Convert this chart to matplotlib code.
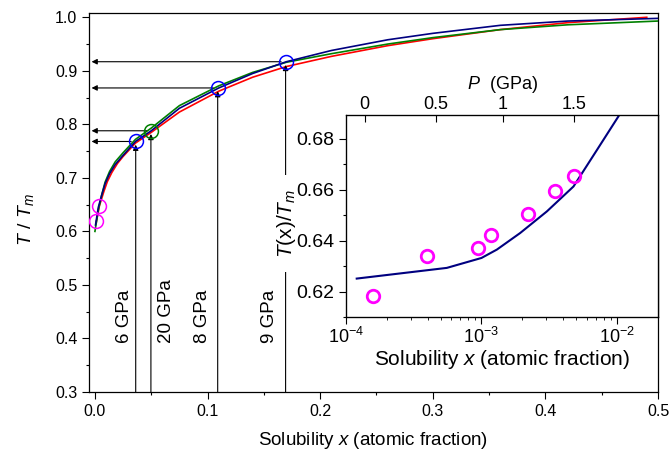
import matplotlib
matplotlib.use("Agg")
import matplotlib.pyplot as plt
from matplotlib.patches import Rectangle
from matplotlib.ticker import MultipleLocator, FixedLocator, NullLocator, LogLocator, NullFormatter

plt.rcParams['font.family'] = ['Liberation Sans', 'DejaVu Sans']
plt.rcParams['mathtext.fontset'] = 'custom'
plt.rcParams['mathtext.rm'] = 'Liberation Sans'
plt.rcParams['mathtext.it'] = 'Liberation Sans:italic'
plt.rcParams['mathtext.bf'] = 'Liberation Sans:bold'

# ---- main panel data ----
x_navy = [0.0005, 0.003, 0.006, 0.009, 0.013, 0.018, 0.025, 0.036, 0.05, 0.075, 0.11, 0.14, 0.17, 0.21, 0.26, 0.30, 0.36, 0.42, 0.50]
y_navy = [0.612, 0.645, 0.668, 0.689, 0.708, 0.725, 0.742, 0.768, 0.788, 0.830, 0.868, 0.895, 0.917, 0.938, 0.958, 0.970, 0.985, 0.993, 0.998]
x_red = [0.001, 0.004, 0.008, 0.011, 0.015, 0.02, 0.025, 0.036, 0.05, 0.075, 0.11, 0.14, 0.17, 0.21, 0.26, 0.30, 0.36, 0.42, 0.49]
y_red = [0.615, 0.648, 0.675, 0.693, 0.710, 0.727, 0.740, 0.765, 0.785, 0.823, 0.862, 0.888, 0.908, 0.927, 0.947, 0.960, 0.977, 0.990, 1.000]
x_green = [0.0, 0.003, 0.006, 0.009, 0.013, 0.018, 0.025, 0.036, 0.05, 0.075, 0.11, 0.14, 0.17, 0.21, 0.26, 0.30, 0.36, 0.42, 0.50]
y_green = [0.600, 0.640, 0.668, 0.692, 0.712, 0.730, 0.747, 0.772, 0.793, 0.835, 0.872, 0.897, 0.916, 0.932, 0.950, 0.962, 0.977, 0.986, 0.993]

mag_x = [0.0006, 0.004]
mag_y = [0.619, 0.647]
circ_x = [0.0362, 0.0497, 0.109, 0.1693]
circ_y = [0.768, 0.788, 0.868, 0.917]
circ_c = ['#0000ff', '#008000', '#0000ff', '#0000ff']
gpa_labels = ['6 GPa', '20 GPa', '8 GPa', '9 GPa']
gpa_label_x = [0.0264, 0.0638, 0.0958, 0.155]

# ---- inset data ----
in_curve_x = [1.2e-4, 5.55e-4, 1.0e-3, 1.3e-3, 1.93e-3, 3.04e-3, 4.78e-3, 7.13e-3, 1.03e-2, 1.1e-2]
in_curve_y = [0.6251, 0.6293, 0.6332, 0.6365, 0.6430, 0.6515, 0.6613, 0.6757, 0.689, 0.692]
in_pts_x = [1.59e-4, 3.95e-4, 9.5e-4, 1.17e-3, 2.22e-3, 3.47e-3, 4.86e-3]
in_pts_y = [0.6182, 0.6338, 0.6371, 0.6421, 0.6505, 0.6595, 0.6655]
P_ticks = [0, 0.5, 1, 1.5]
P_tick_x = [1.37e-4, 4.63e-4, 1.44e-3, 4.79e-3]

fig = plt.figure(figsize=(6.7, 4.55), dpi=100)
ax = fig.add_axes([0.1328, 0.1385, 0.8493, 0.8329])

ax.plot(x_red, y_red, color='#ff0000', lw=1.2, zorder=3)
ax.plot(x_green, y_green, color='#008000', lw=1.2, zorder=3)
ax.plot(x_navy, y_navy, color='#000080', lw=1.2, zorder=4)

ax.plot(mag_x, mag_y, 'o', ms=10, mfc='none', mec='#ff00ff', mew=1.1, zorder=6)
for cx, cy, cc in zip(circ_x, circ_y, circ_c):
    ax.plot([cx], [cy], 'o', ms=10, mfc='none', mec=cc, mew=1.1, zorder=6)

arr = dict(arrowstyle='-|>', color='k', lw=0.8, mutation_scale=8, shrinkA=0, shrinkB=0)
for cx, cy in zip(circ_x, circ_y):
    ax.annotate('', xy=(cx, cy - 0.006), xytext=(cx, 0.3), arrowprops=arr, zorder=5)
    ax.annotate('', xy=(-0.003, cy), xytext=(cx - 0.004, cy), arrowprops=arr, zorder=5)

for lab, lx in zip(gpa_labels, gpa_label_x):
    ax.text(lx, 0.392, lab, rotation=90, ha='center', va='bottom', fontsize=13.5)

ax.set_xlim(-0.0053, 0.5)
ax.set_ylim(0.3, 1.008)
ax.xaxis.set_major_locator(MultipleLocator(0.1))
ax.xaxis.set_minor_locator(MultipleLocator(0.05))
ax.yaxis.set_major_locator(MultipleLocator(0.1))
ax.yaxis.set_minor_locator(MultipleLocator(0.05))
ax.xaxis.set_major_formatter(plt.FuncFormatter(lambda v, p: f"{v:.1f}"))
ax.yaxis.set_major_formatter(plt.FuncFormatter(lambda v, p: f"{v:.1f}"))
ax.tick_params(which='major', direction='out', length=4.8, width=0.8, labelsize=11.5)
ax.tick_params(which='minor', direction='out', length=2.4, width=0.8)
for s in ax.spines.values():
    s.set_linewidth(0.9)
ax.set_xlabel('Solubility $x$ (atomic fraction)', fontsize=13.5, labelpad=8)
ax.set_ylabel('$T$ / $T_m$', fontsize=14)
ax.yaxis.set_label_coords(-0.093, 0.456)

# ---- inset ----
ai = fig.add_axes([0.5164, 0.3033, 0.4657, 0.4440])
ai.plot(in_curve_x, in_curve_y, color='#000080', lw=1.5)
ai.plot(in_pts_x, in_pts_y, 'o', ms=9, mfc='none', mec='#ff00ff', mew=2.0)
ai.set_xscale('log')
ai.set_xlim(1e-4, 0.0201)
ai.set_ylim(0.610, 0.6894)
ai.yaxis.set_major_locator(MultipleLocator(0.02))
ai.yaxis.set_minor_locator(MultipleLocator(0.01))
ai.yaxis.set_major_formatter(plt.FuncFormatter(lambda v, p: f"{v:.2f}"))
ai.xaxis.set_major_locator(LogLocator(base=10, numticks=10))
ai.xaxis.set_minor_locator(LogLocator(base=10, subs=range(2, 10), numticks=10))
ai.xaxis.set_minor_formatter(NullFormatter())
ai.tick_params(axis='y', which='major', direction='out', length=4.8, width=0.8, labelsize=14)
ai.tick_params(axis='y', which='minor', direction='out', length=2.4, width=0.8)
ai.tick_params(axis='x', which='major', direction='out', length=4.8, width=0.8, labelsize=13, pad=2)
ai.tick_params(axis='x', which='minor', direction='out', length=2.4, width=0.6)
for s in ai.spines.values():
    s.set_linewidth(0.9)
ai.set_xlabel('Solubility $x$ (atomic fraction)', fontsize=15, labelpad=1)
# white strip behind the inset y label (interrupts the 9 GPa line, as in the original)
ai.add_patch(Rectangle((-0.2115, 0.223), 0.0385, 0.48, transform=ai.transAxes,
                       facecolor='white', edgecolor='none', clip_on=False, zorder=1))
ai.text(-0.191, 0.465, '$T$(x)/$T_m$', transform=ai.transAxes, rotation=90,
        ha='center', va='center', fontsize=15, zorder=2)

at = ai.twiny()
at.set_xscale('log')
at.set_xlim(ai.get_xlim())
at.xaxis.set_major_locator(FixedLocator(P_tick_x))
at.xaxis.set_minor_locator(NullLocator())
at.set_xticklabels([f"{p:g}" for p in P_ticks])
at.tick_params(axis='x', which='major', direction='in', length=4.8, width=0.8, labelsize=13, pad=1.5)
at.set_xlabel('$P$  (GPa)', fontsize=13, labelpad=5)

fig.savefig('out.png', dpi=100)
